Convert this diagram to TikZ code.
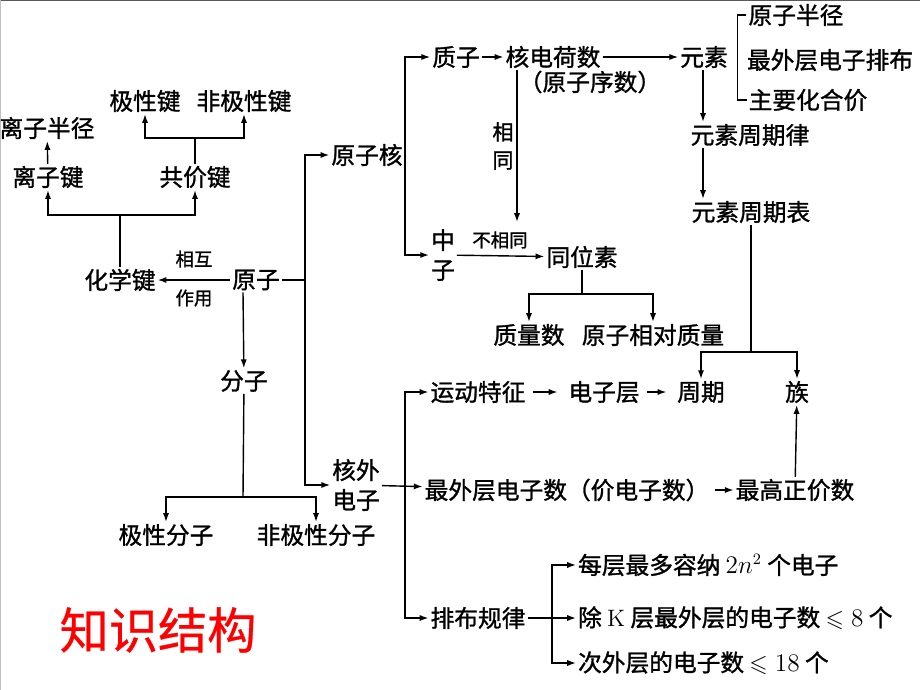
\documentclass[tikz,border=0pt]{standalone}
\usepackage{amssymb}
\usepackage{amsmath}
\usepackage{fontspec}
\usepackage{tikz}
\usepackage{xcolor}
\usetikzlibrary{arrows.meta}
\newfontfamily\cjk[FakeBold=1.2]{Noto Sans CJK SC}
\newfontfamily\cjkt[FakeBold=0.6]{Noto Sans CJK SC}

\begin{document}
\begin{tikzpicture}
[
x=0.02cm, y=-0.02cm,
text-a/.style={inner sep=1pt, font=\cjk\fontsize{13.5}{17}\selectfont, align=center},
text-s/.style={inner sep=1pt, font=\cjk\fontsize{10.5}{13}\selectfont},
text-v/.style={inner sep=1pt, font=\cjk\fontsize{12}{16}\selectfont, align=center},
line-a/.style={line width=0.8pt},
arr-a/.style={line-a, -{Latex[length=5pt, width=3.5pt]}}
]
\useasboundingbox (0,0) rectangle (920,690);
\draw[black!65, line width=1.5pt] (0,0) -- (920,0);
\draw[black!25, line width=1.5pt] (0,0) -- (0,690);

% left part: chemical bond and molecule
\node (lz-bj)    [text-a] at (47,128)   {离子半径};
\node (jx-j)     [text-a] at (145,101)  {极性键};
\node (fjx-j)    [text-a] at (244,101)  {非极性键};
\node (lz-j)     [text-a] at (48,177)   {离子键};
\node (gj-j)     [text-a] at (195,177)  {共价键};
\node (hx-j)     [text-a] at (120,280)  {化学键};
\node (yz)       [text-a] at (256,280)  {原子};
\node (xh)       [text-s] at (194,259)  {相互};
\node (zy)       [text-s] at (194,298)  {作用};
\node (fz)       [text-a] at (244,381)  {分子};
\node (jx-fz)    [text-a] at (166,535)  {极性分子};
\node (fjx-fz)   [text-a] at (316,535)  {非极性分子};

% nucleus
\node (yzh)      [text-a] at (367,155)  {原子核};
\node (zz)       [text-a] at (456,57)   {质子};
\node (hdhs)     [text-a] at (553,57)   {核电荷数};
\node (yzxs)     [text-a] at (590,82)   {（原子序数）};
\node (ys)       [text-a] at (704,57)   {元素};
\node (yz-bj)    [text-a] at (796,15)   {原子半径};
\node (zwc-pb)   [text-a] at (830,60)   {最外层电子排布};
\node (zy-hhj)   [text-a] at (808,100)  {主要化合价};
\node (ys-zql)   [text-a] at (750,135)  {元素周期律};
\node (ys-zqb)   [text-a] at (751,212)  {元素周期表};
\node (xt)       [text-v] at (503,146)  {相\\同};
\node (zhz)      [text-a] at (443,255)  {中\\子};
\node (bxt)      [text-s] at (500,240)  {不相同};
\node (twys)     [text-a] at (582,257)  {同位素};
\node (zls)      [text-a] at (529,335)  {质量数};
\node (yz-xdzl)  [text-a] at (653,335)  {原子相对质量};

% electrons
\node (hw-dz)    [text-a] at (356,485)  {核外\\电子};
\node (yd-tz)    [text-a] at (478,392)  {运动特征};
\node (dzc)      [text-a] at (604,392)  {电子层};
\node (zq)       [text-a] at (701,392)  {周期};
\node (zu)       [text-a] at (797,392)  {族};
\node (zwc-dzs)  [text-a] at (567,490)  {最外层电子数（价电子数）};
\node (zg-zjs)   [text-a] at (795,490)  {最高正价数};
\node (pb-gl)    [text-a] at (478,618)  {排布规律};
\node (gl-1)     [text-a, anchor=west] at (576,565) {每层最多容纳 $2n^2$ 个电子};
\node (gl-2)     [text-a, anchor=west] at (576,618) {除 {\rmfamily K} 层最外层的电子数 $\leqslant 8$ 个};
\node (gl-3)     [text-a, anchor=west] at (576,663) {次外层的电子数 $\leqslant 18$ 个};

\node (title)    [inner sep=1pt, font=\cjkt\fontsize{28}{32}\selectfont, text=red] at (158,630) {知识结构};

\coordinate (b-1) at (120,215);
\coordinate (b-2) at (195,138);
\coordinate (b-3) at (243,497);
\coordinate (b-4) at (582,294);
\coordinate (b-5) at (751,352);
\coordinate (t-1) at (305,280);
\coordinate (t-2) at (405,155);
\coordinate (t-3) at (405,490);
\coordinate (t-4) at (552,618);
\coordinate (c-1) at (517,222);

% bonds
\draw[line-a] (hx-j) -- (b-1);
\draw[arr-a]  (b-1) -| (lz-j);
\draw[arr-a]  (b-1) -| (gj-j);
\draw[line-a] (gj-j) -- (b-2);
\draw[arr-a]  (b-2) -| (jx-j);
\draw[arr-a]  (b-2) -| (fjx-j);
\draw[arr-a]  (lz-j) -- (lz-bj);
\draw[arr-a]  (yz) -- (hx-j);
\draw[arr-a]  (yz.south -| b-3) -- (fz);
\draw[line-a] (fz) -- (b-3);
\draw[arr-a]  (b-3) -| (jx-fz);
\draw[arr-a]  (b-3) -| (fjx-fz);

% atom
\draw[line-a] (yz) -- (t-1);
\draw[arr-a]  (t-1) |- (yzh);
\draw[arr-a]  (t-1) |- (hw-dz);
\draw[line-a] (yzh) -- (t-2);
\draw[arr-a]  (t-2) |- (zz);
\draw[arr-a]  (t-2) |- (zhz);
\draw[arr-a]  (zz) -- (hdhs);
\draw[arr-a]  (hdhs) -- (ys);
\draw[arr-a]  (hdhs.south -| c-1) -- (c-1);
\draw[arr-a]  (zhz) -- (twys);
\draw[line-a] (twys) -- (b-4);
\draw[arr-a]  (b-4) -| (zls);
\draw[arr-a]  (b-4) -| (yz-xdzl);
\draw[arr-a]  (ys.south -| 703,0) -- (ys-zql.north -| 703,0);
\draw[arr-a]  (ys-zql.south -| 703,0) -- (ys-zqb.north -| 703,0);
\draw[line-a] (yz-bj.west) -- ++(-9,0) |- (zy-hhj.west);
\draw[line-a] (ys-zqb) -- (b-5);
\draw[arr-a]  (b-5) -| (zq);
\draw[arr-a]  (b-5) -| (zu);

% electrons
\draw[arr-a]  (t-3) |- (yd-tz);
\draw[arr-a]  (t-3) |- (pb-gl);
\draw[arr-a]  (hw-dz) -- (zwc-dzs);
\draw[arr-a, shorten <=3pt, shorten >=5pt] (yd-tz) -- (dzc);
\draw[arr-a, shorten <=3pt, shorten >=5pt] (dzc) -- (zq);
\draw[arr-a, shorten <=2pt] (zwc-dzs) -- (zg-zjs);
\draw[arr-a]  (zg-zjs) -- (zu);
\draw[line-a] (pb-gl) -- (t-4);
\draw[arr-a]  (t-4) |- (gl-1);
\draw[arr-a]  (t-4) -- (gl-2);
\draw[arr-a]  (t-4) |- (gl-3);
\end{tikzpicture}
\end{document}
